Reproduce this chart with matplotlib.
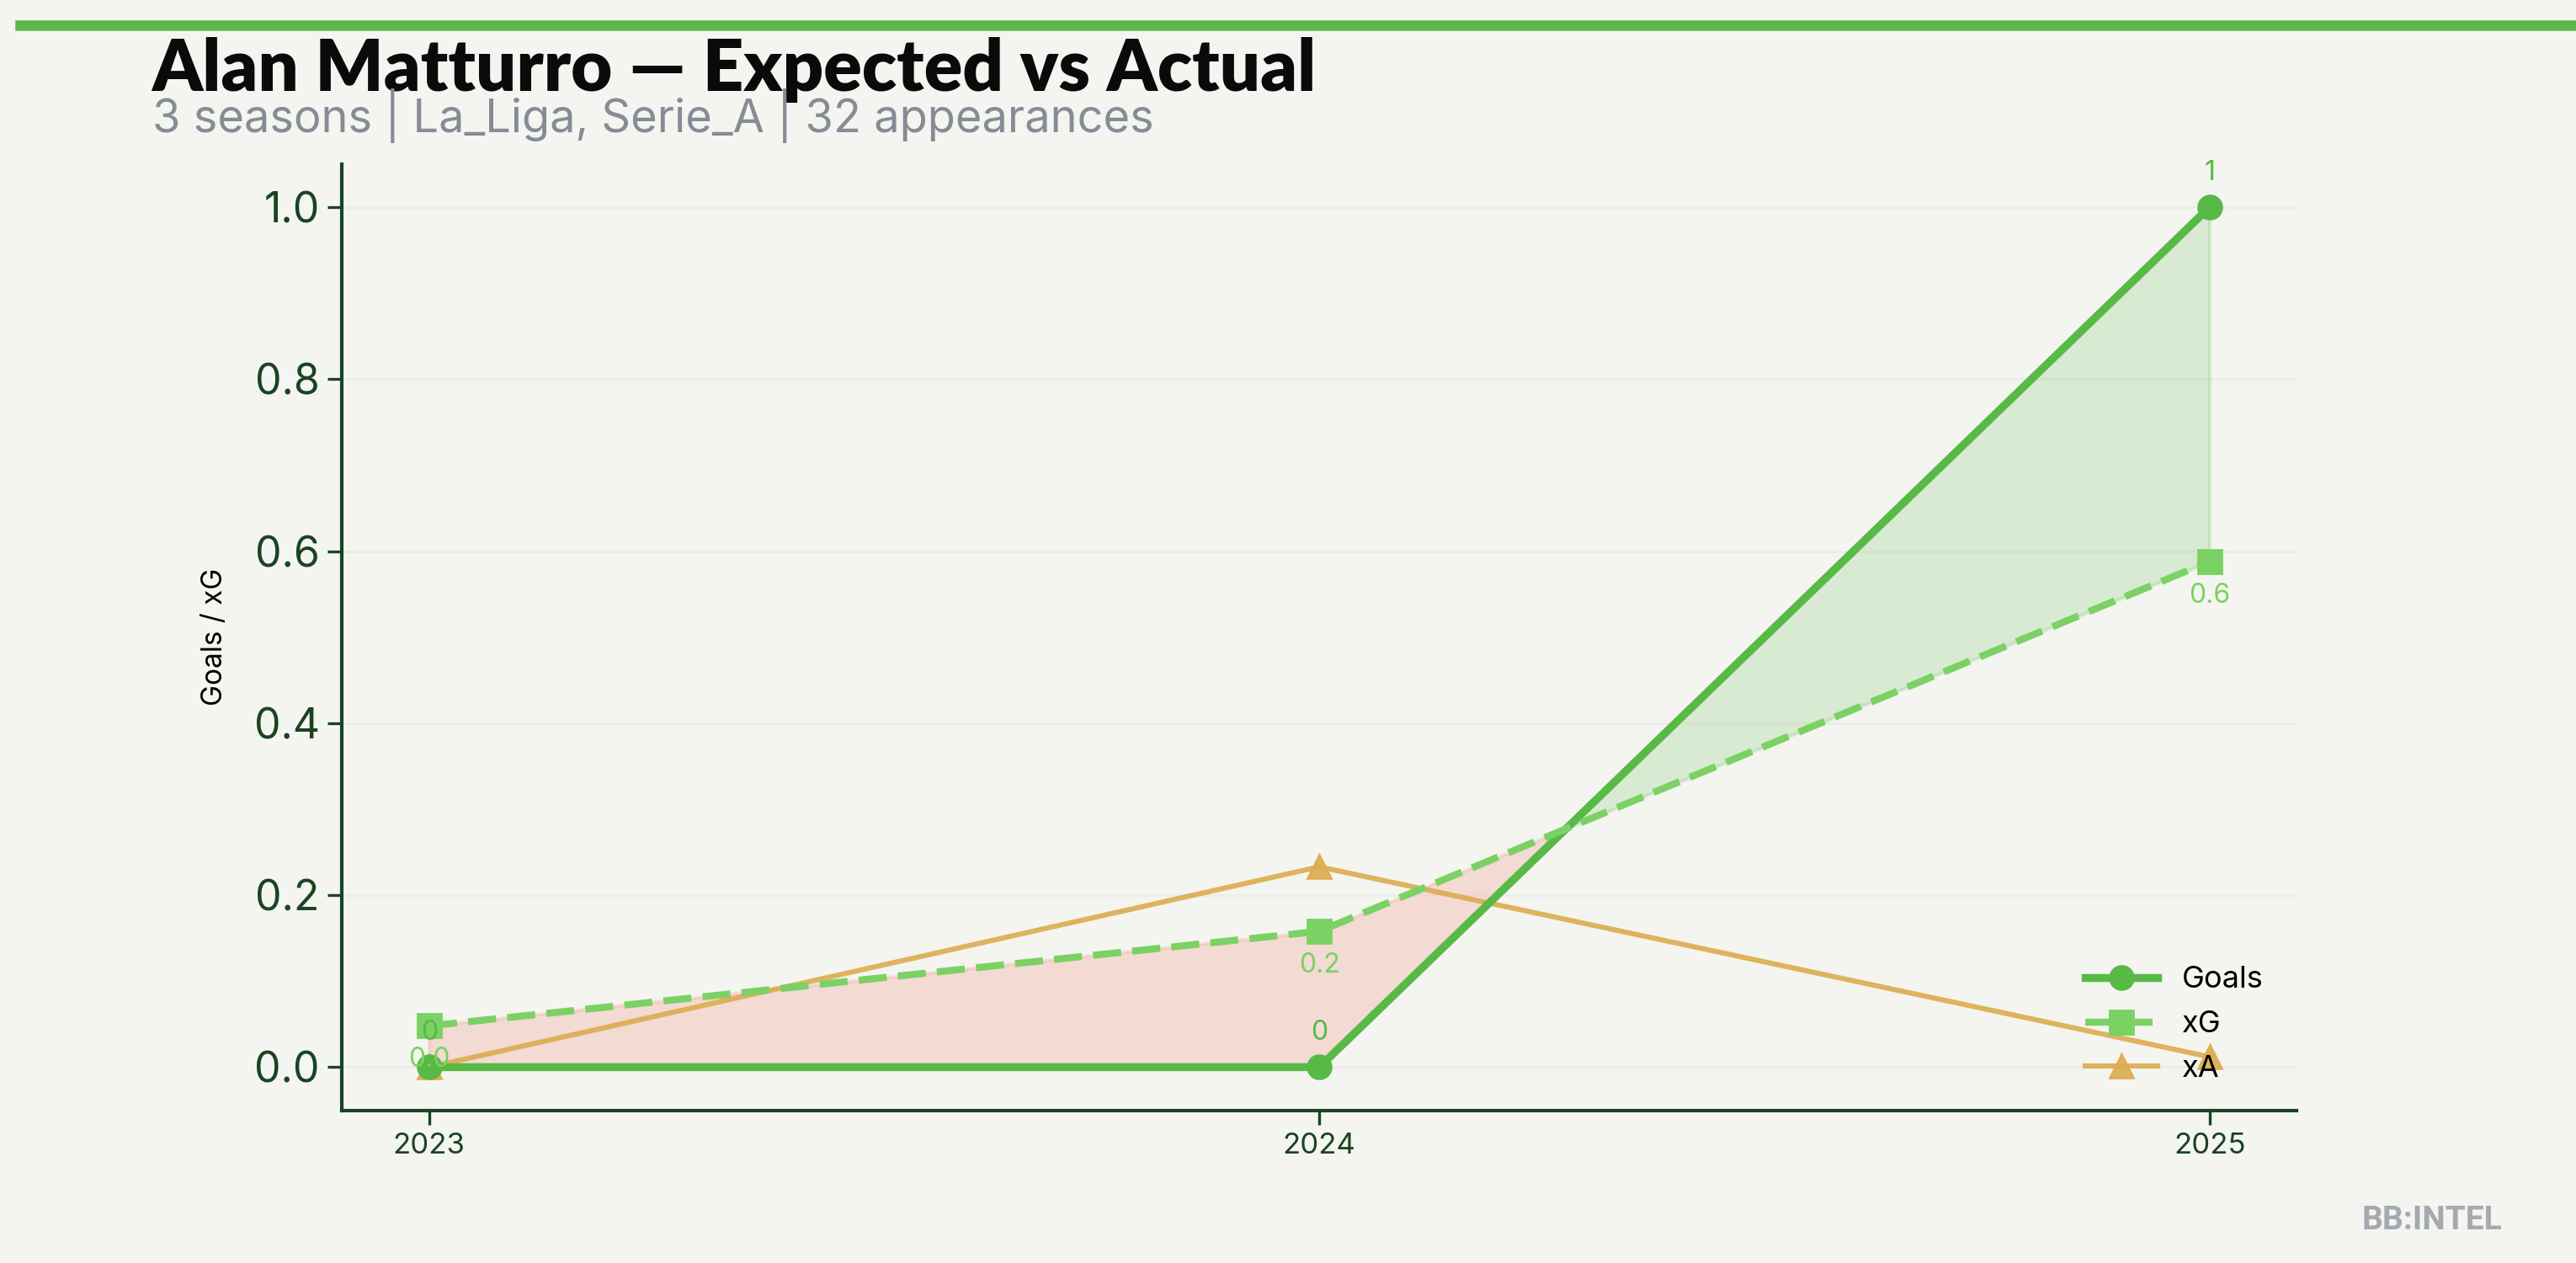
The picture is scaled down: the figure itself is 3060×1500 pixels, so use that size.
import matplotlib.pyplot as plt
import numpy as np

# ---- data --------------------------------------------------------------------
seasons = [2023, 2024, 2025]
goals = [0, 0, 1]
xg = [0.048, 0.158, 0.588]
xa = [0.0, 0.233, 0.012]

title = "Alan Matturro \u2014 Expected vs Actual"
subtitle = "3 seasons | La_Liga, Serie_A | 32 appearances"

BG = "#f4f5f0"
GOALS_C = "#58b947"
XG_C = "#7bd164"
XA_C = "#dcac4f"
INK = "#1b4323"

plt.rcParams["font.family"] = ["Inter", "DejaVu Sans"]

fig = plt.figure(figsize=(15.3, 7.5), dpi=200, facecolor=BG)
ax = fig.add_axes([0.1327, 0.121, 0.7589, 0.749])
ax.set_facecolor(BG)

x = np.array(seasons, dtype=float)
g = np.array(goals, dtype=float)
e = np.array(xg, dtype=float)

# over / under performance fill
ax.fill_between(x, g, e, where=g >= e, interpolate=True,
                color="#5cb84a", alpha=0.18, lw=1.5, zorder=1)
ax.fill_between(x, g, e, where=g < e, interpolate=True,
                color="#f2b3a8", alpha=0.40, lw=1.5, zorder=1)

ax.plot(x, g, color=GOALS_C, lw=3.4, marker="o", markersize=10,
        label="Goals", zorder=4)
ax.plot(x, e, color=XG_C, lw=3.0, ls="--", dashes=(4, 1.6), marker="s",
        markersize=10, label="xG", zorder=4)
ax.plot(x, xa, color=XA_C, lw=2.2, marker="^", markersize=10, alpha=0.9,
        label="xA", zorder=3)

for xi, gi in zip(x, g):
    ax.annotate(f"{gi:.0f}", (xi, gi), xytext=(0, 9), textcoords="offset points",
                ha="center", va="bottom", fontsize=11.5, color=GOALS_C, zorder=5)
for xi, ei in zip(x, e):
    ax.annotate(f"{ei:.1f}", (xi, ei), xytext=(0, -9), textcoords="offset points",
                ha="center", va="top", fontsize=11.5, color=XG_C, zorder=5)

ax.set_xlim(2023 - 0.098, 2025 + 0.098)
ax.set_ylim(-0.05, 1.05)
ax.set_xticks(seasons)
ax.set_xticklabels([str(s) for s in seasons])
ax.set_yticks([0.0, 0.2, 0.4, 0.6, 0.8, 1.0])
ax.tick_params(axis="y", labelsize=18, colors=INK, length=6, width=1.2)
ax.tick_params(axis="x", labelsize=12.5, colors=INK, length=6, width=1.2)
ax.yaxis.grid(True, color="#ecede6", lw=1.0, zorder=0)
ax.set_axisbelow(True)
for s in ("top", "right"):
    ax.spines[s].set_visible(False)
for s in ("left", "bottom"):
    ax.spines[s].set_color(INK)
    ax.spines[s].set_linewidth(1.5)
ax.set_ylabel("Goals / xG", fontsize=12, color="black", labelpad=11)

leg = ax.legend(loc="lower right", frameon=False, fontsize=13,
                bbox_to_anchor=(0.997, 0.0), handlelength=2.4,
                labelspacing=0.55)

# ---- header ------------------------------------------------------------------
fig.add_artist(plt.Line2D([0.008, 1.0], [0.980, 0.980],
                          transform=fig.transFigure, color="#5cb84a", lw=4.5))
fig.text(0.059, 0.928, title, fontsize=30.5, fontweight="heavy",
         family=["Lato", "DejaVu Sans"], color="#0a0a0a", va="baseline")
fig.text(0.059, 0.895, subtitle, fontsize=19.5, color="#868c96", va="baseline")

fig.text(0.944, 0.027, "BB:INTEL", fontsize=14, fontweight="bold",
         family=["Roboto", "DejaVu Sans"], color="#a5a9b0",
         ha="center", va="baseline")

fig.savefig("out.png", dpi=200, facecolor=BG)
